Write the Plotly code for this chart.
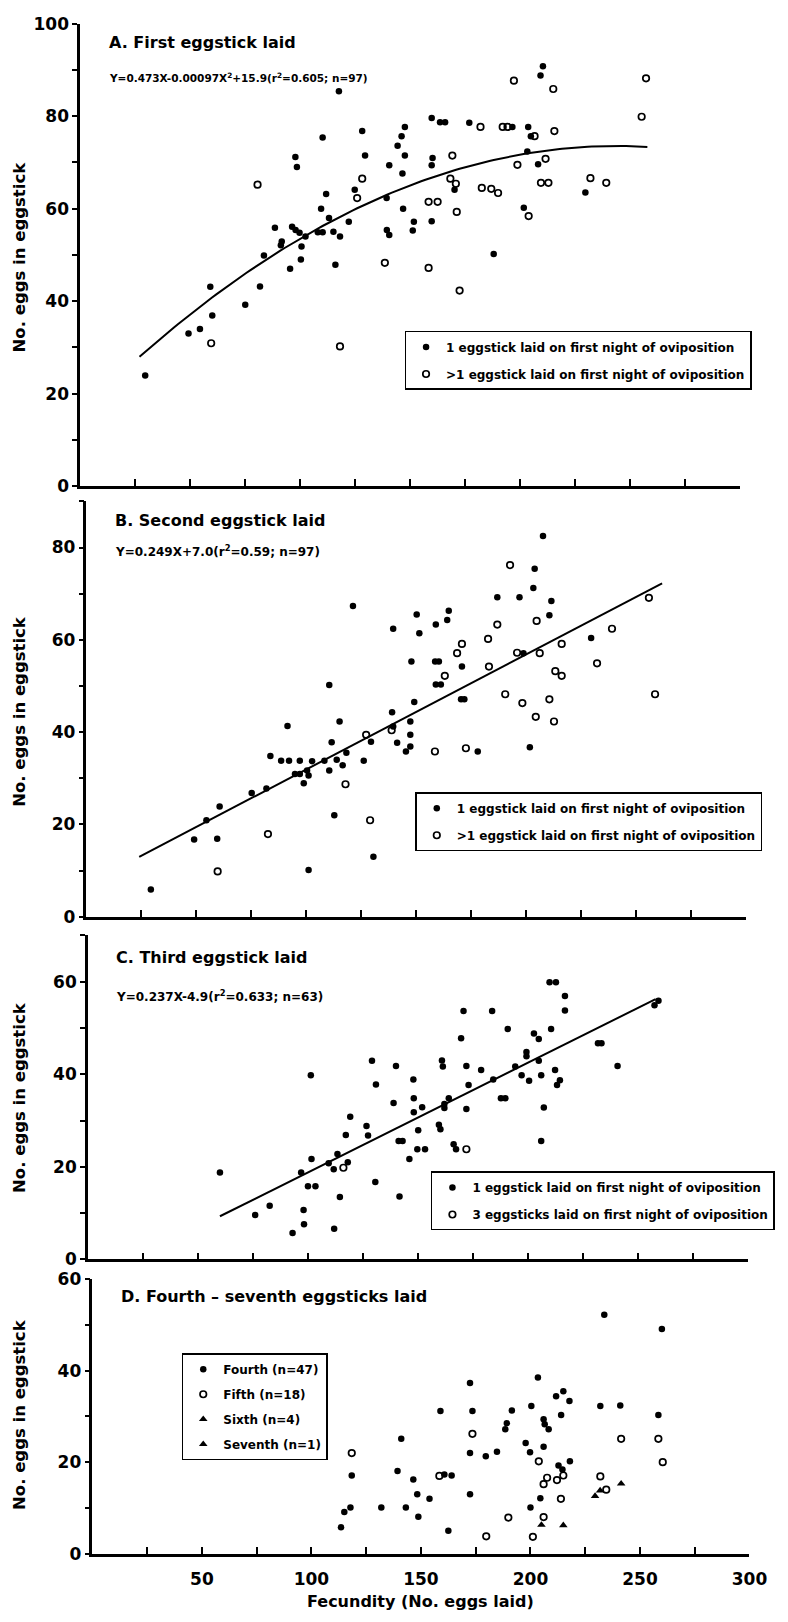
import numpy as np
import plotly.graph_objects as go

FONT = "DejaVu Sans"
W, H = 788, 1622

# ---------------- Panel A: first eggstick laid ----------------
a_one_x = [209.4, 210.5, 117.7, 159.9, 163.7, 166.0, 177.0, 196.6, 203.8, 205.0, 128.3, 147.7,
           146.2, 144.4, 147.7, 129.6, 110.3, 97.9, 98.6, 140.6, 160.3, 159.9, 203.4, 208.3,
           146.6, 170.3, 229.8, 124.9, 111.9, 139.4, 109.6, 146.9, 201.8, 88.6, 96.4, 98.0,
           99.8, 102.5, 108.1, 110.3, 113.2, 115.2, 118.2, 122.2, 139.5, 140.6, 151.3, 151.8,
           159.9, 91.7, 91.3, 100.7, 83.6, 100.4, 95.5, 116.1, 188.1, 59.2, 81.8, 75.1,
           60.1, 49.3, 54.5, 29.6]
a_one_y = [88.8, 90.8, 85.4, 79.6, 78.7, 78.7, 78.6, 77.7, 77.7, 75.7, 76.8, 77.7,
           75.7, 73.6, 71.5, 71.5, 75.4, 71.2, 69.0, 69.4, 71.0, 69.4, 72.4, 69.6,
           67.6, 64.1, 63.5, 64.1, 63.2, 62.3, 60.0, 60.0, 60.2, 55.9, 56.1, 55.4,
           54.8, 54.0, 54.9, 54.9, 58.0, 55.0, 54.0, 57.2, 55.4, 54.3, 55.3, 57.2,
           57.3, 52.9, 52.1, 51.8, 49.9, 49.0, 47.0, 47.9, 50.2, 43.1, 43.2, 39.2,
           36.9, 33.0, 34.0, 23.9]
a_multi_x = [197.3, 215.2, 257.4, 255.4, 182.1, 192.2, 194.4, 206.7, 215.7, 169.3, 211.7, 198.9,
             168.4, 170.9, 182.7, 187.0, 190.1, 209.6, 213.0, 232.1, 239.3, 80.7, 128.3, 126.0,
             158.5, 162.6, 171.3, 204.0, 138.6, 158.5, 172.6, 59.6, 118.2]
a_multi_y = [87.7, 85.9, 88.2, 79.9, 77.7, 77.7, 77.7, 75.7, 76.8, 71.5, 70.8, 69.5,
             66.5, 65.4, 64.5, 64.3, 63.4, 65.6, 65.6, 66.6, 65.6, 65.2, 66.5, 62.3,
             61.5, 61.5, 59.3, 58.4, 48.3, 47.2, 42.3, 30.9, 30.2]
a_coef = (0.473, -0.00097, 15.9)   # Y = b1*X + b2*X^2 + b0
a_fit_range = (27, 258)

# ---------------- Panel B: second eggstick laid ----------------
b_one_x = [207.8, 204.0, 203.4, 187.0, 197.1, 211.6, 121.3, 210.7, 150.3, 164.9, 164.2, 159.0,
           139.6, 151.5, 229.7, 198.9, 147.9, 158.7, 160.4, 170.9, 159.0, 161.3, 110.5, 170.5,
           172.0, 149.2, 139.1, 91.5, 115.2, 147.4, 139.6, 147.4, 147.4, 141.4, 145.4, 129.5,
           111.6, 178.1, 201.8, 83.7, 88.6, 92.2, 97.1, 102.7, 108.3, 113.9, 118.3, 126.2,
           110.5, 116.6, 94.9, 97.1, 100.4, 101.1, 98.9, 75.2, 81.9, 60.6, 54.6, 49.0,
           59.5, 112.8, 130.6, 101.1, 29.3]
b_one_y = [82.5, 75.4, 71.2, 69.2, 69.2, 68.4, 67.3, 65.3, 65.5, 66.3, 64.3, 63.3,
           62.4, 61.4, 60.4, 57.1, 55.3, 55.3, 55.3, 54.2, 50.3, 50.3, 50.2, 47.1,
           47.1, 46.5, 44.3, 41.3, 42.3, 42.3, 41.2, 39.4, 36.9, 37.7, 35.8, 37.9,
           37.8, 35.8, 36.7, 34.8, 33.8, 33.8, 33.8, 33.7, 33.8, 34.0, 35.5, 33.8,
           31.7, 32.8, 30.9, 30.9, 31.7, 30.6, 28.9, 26.8, 27.8, 23.9, 20.9, 16.7,
           16.9, 22.0, 13.0, 10.1, 5.9]
b_multi_x = [192.8, 256.0, 204.9, 187.0, 239.2, 182.8, 170.9, 168.7, 216.3, 196.0, 206.3, 183.2,
             232.4, 163.1, 213.4, 216.3, 190.6, 258.8, 198.4, 210.7, 204.5, 212.8, 138.9, 127.3,
             158.6, 172.7, 117.9, 82.6, 129.1, 59.7]
b_multi_y = [76.2, 69.1, 64.1, 63.3, 62.4, 60.2, 59.1, 57.1, 59.1, 57.2, 57.1, 54.2,
             54.9, 52.2, 53.2, 52.2, 48.2, 48.2, 46.3, 47.1, 43.3, 42.3, 40.4, 39.4,
             35.8, 36.5, 28.7, 17.9, 20.9, 9.8]
b_coef = (0.249, 7.0)   # Y = b1*X + b0
b_fit_range = (24, 262)

# ---------------- Panel C: third eggstick laid ----------------
c_one_x = [60.0, 76.0, 82.6, 93.0, 96.9, 98.0, 98.2, 100.0, 103.4, 101.3, 101.6, 109.4,
           111.7, 111.9, 113.4, 114.5, 117.2, 118.1, 119.2, 126.6, 127.3, 129.1, 130.9, 130.6,
           138.9, 140.0, 141.2, 143.0, 141.6, 146.1, 147.9, 148.1, 148.1, 150.1, 149.7, 151.9,
           153.2, 159.5, 160.2, 160.9, 161.3, 162.0, 162.0, 164.0, 166.2, 167.3, 169.6, 170.7,
           172.0, 172.0, 173.0, 178.7, 183.7, 184.2, 187.7, 189.7, 190.8, 194.2, 197.1, 199.3,
           199.3, 200.5, 202.7, 204.9, 204.9, 206.0, 206.0, 207.2, 210.5, 209.8, 212.7, 212.3,
           213.2, 214.5, 216.8, 216.8, 231.8, 233.4, 240.7, 257.5, 259.3]
c_one_y = [18.8, 9.6, 11.6, 5.7, 18.8, 10.7, 7.6, 15.8, 15.8, 39.8, 21.7, 20.8,
           19.5, 6.6, 22.8, 13.5, 26.9, 21.0, 30.8, 28.8, 26.8, 42.9, 37.8, 16.7,
           33.8, 41.8, 25.6, 25.6, 13.6, 21.7, 38.9, 34.8, 31.8, 27.9, 23.8, 32.9,
           23.8, 29.1, 28.1, 43.0, 41.7, 33.6, 32.7, 34.8, 24.9, 23.8, 47.8, 53.7,
           41.8, 32.5, 37.7, 40.9, 53.7, 38.9, 34.8, 34.8, 49.8, 41.7, 39.8, 44.8,
           43.9, 38.6, 48.8, 47.6, 42.9, 39.8, 25.6, 32.8, 49.8, 59.9, 59.9, 40.9,
           37.7, 38.7, 56.9, 53.8, 46.7, 46.7, 41.8, 54.9, 55.9]
c_three_x = [116.1, 172.0]
c_three_y = [19.8, 23.8]
c_coef = (0.237, -4.9)
c_fit_range = (60, 258)

# ---------------- Panel D: fourth to seventh eggsticks ----------------
d_fourth_x = [233.7, 260.0, 172.4, 203.4, 211.7, 215.0, 217.8, 214.0, 158.9, 173.5, 191.5, 200.4,
              231.9, 241.0, 258.4, 189.2, 188.5, 206.0, 206.5, 208.3, 141.0, 197.8, 206.0, 172.4,
              179.6, 184.7, 199.8, 218.0, 212.8, 214.6, 118.4, 139.3, 146.5, 160.7, 164.0, 148.3,
              172.4, 153.9, 204.5, 115.0, 117.8, 131.9, 143.1, 148.8, 113.5, 162.5, 200.0]
d_fourth_y = [52.2, 49.1, 37.3, 38.5, 34.4, 35.5, 33.4, 30.3, 31.2, 31.2, 31.3, 32.3,
              32.3, 32.4, 30.3, 28.5, 27.2, 29.4, 28.3, 27.2, 25.1, 24.2, 23.4, 22.0,
              21.3, 22.3, 22.2, 20.2, 19.3, 18.4, 17.1, 18.1, 16.2, 17.3, 17.1, 13.0,
              13.0, 12.0, 12.1, 9.1, 10.1, 10.1, 10.1, 8.1, 5.8, 5.0, 10.1]
d_fifth_x = [118.4, 173.5, 203.8, 241.4, 258.4, 260.4, 231.9, 234.6, 207.6, 206.0, 212.1, 215.0,
             213.9, 189.9, 206.0, 179.8, 201.1, 158.4]
d_fifth_y = [22.0, 26.2, 20.2, 25.1, 25.1, 20.0, 16.9, 14.0, 16.6, 15.2, 16.1, 17.1,
             12.0, 7.9, 8.0, 3.8, 3.7, 17.0]
d_sixth_x = [205.0, 215.0, 241.4, 229.5]
d_sixth_y = [6.3, 6.2, 15.3, 12.6]
d_seventh_x = [231.8]
d_seventh_y = [13.8]

X_MAJOR = list(range(50, 301, 50))
X_MINOR = list(range(25, 301, 50))

# pixel frame of each panel: (x at 0, x at 300, y at 0, y at top, top value)
panels = [
    dict(x0=82.0, x1=757.0, y0=482.0, y1=14.0, top=100),
    dict(x0=88.5, x1=763.0, y0=918.0, y1=497.5, top=90),
    dict(x0=90.0, x1=765.5, y0=1265.0, y1=937.0, top=70),
    dict(x0=94.6, x1=767.0, y0=1563.0, y1=1285.0, top=60),
]

fig = go.Figure()

filled = dict(symbol="circle", size=6.5, color="black")
hollow = dict(symbol="circle-open", size=6.5, color="black", line=dict(width=1.7, color="black"))
triangle = dict(symbol="triangle-up", size=7.5, color="black")


def add_points(x, y, marker, name, idx, legend):
    suffix = "" if idx == 1 else str(idx)
    fig.add_trace(go.Scatter(x=x, y=y, mode="markers", marker=marker, name=name,
                             xaxis="x" + suffix, yaxis="y" + suffix,
                             legend=legend, legendgroup=name + suffix, cliponaxis=False))


def add_fit(xs, ys, idx):
    suffix = "" if idx == 1 else str(idx)
    fig.add_trace(go.Scatter(x=xs, y=ys, mode="lines", line=dict(color="black", width=2),
                             xaxis="x" + suffix, yaxis="y" + suffix, showlegend=False,
                             hoverinfo="skip"))


one_night = "1 eggstick laid on first night of oviposition"

# Panel A
add_points(a_one_x, a_one_y, filled, one_night, 1, "legend")
add_points(a_multi_x, a_multi_y, hollow, ">1 eggstick laid on first night of oviposition", 1, "legend")
xa = np.linspace(*a_fit_range, 120)
add_fit(xa, a_coef[0] * xa + a_coef[1] * xa ** 2 + a_coef[2], 1)

# Panel B
add_points(b_one_x, b_one_y, filled, one_night, 2, "legend2")
add_points(b_multi_x, b_multi_y, hollow, ">1 eggstick laid on first night of oviposition", 2, "legend2")
xb = np.array(b_fit_range, dtype=float)
add_fit(xb, b_coef[0] * xb + b_coef[1], 2)

# Panel C
add_points(c_one_x, c_one_y, filled, one_night, 3, "legend3")
add_points(c_three_x, c_three_y, hollow, "3 eggsticks laid on first night of oviposition", 3, "legend3")
xc = np.array(c_fit_range, dtype=float)
add_fit(xc, c_coef[0] * xc + c_coef[1], 3)

# Panel D
add_points(d_fourth_x, d_fourth_y, filled, "Fourth (n=47)", 4, "legend4")
add_points(d_fifth_x, d_fifth_y, hollow, "Fifth (n=18)", 4, "legend4")
add_points(d_sixth_x, d_sixth_y, triangle, "Sixth (n=4)", 4, "legend4")
add_points(d_seventh_x, d_seventh_y, triangle, "Seventh (n=1)", 4, "legend4")

layout = dict(
    width=W, height=H, margin=dict(l=0, r=0, t=0, b=0),
    paper_bgcolor="white", plot_bgcolor="white",
    font=dict(family=FONT, color="black"),
    hovermode=False,
)

for i, p in enumerate(panels, start=1):
    suffix = "" if i == 1 else str(i)
    top = p["top"]
    layout["xaxis" + suffix] = dict(
        domain=[p["x0"] / W, p["x1"] / W], range=[0, 300], anchor="y" + suffix,
        showgrid=False, zeroline=False, showline=True, linecolor="black", linewidth=2.5,
        ticks="inside", ticklen=7, tickwidth=2, tickcolor="black",
        tickmode="array", tickvals=X_MAJOR, showticklabels=(i == 4), ticklabelstandoff=8,
        tickfont=dict(family=FONT, size=17, weight="bold"),
        minor=dict(tickmode="array", tickvals=X_MINOR, ticks="inside", ticklen=7,
                   tickwidth=2, tickcolor="black", showgrid=False),
    )
    layout["yaxis" + suffix] = dict(
        domain=[1 - p["y0"] / H, 1 - p["y1"] / H], range=[0, top], anchor="x" + suffix,
        showgrid=False, zeroline=False, showline=True, linecolor="black", linewidth=2.5,
        ticks="outside", ticklen=5, tickwidth=2, tickcolor="black",
        tickmode="array", tickvals=list(range(0, top + 1, 20)),
        tickfont=dict(family=FONT, size=17, weight="bold"),
        minor=dict(tickmode="array", tickvals=list(range(10, top + 1, 20)), ticks="outside",
                   ticklen=5, tickwidth=2, tickcolor="black", showgrid=False),
    )

legend_style = dict(xanchor="left", yanchor="top", bordercolor="black", borderwidth=1.5,
                    bgcolor="white", traceorder="grouped", tracegroupgap=8,
                    font=dict(family=FONT, size=12, weight="bold"), itemsizing="trace")
layout["legend"] = dict(legend_style, x=414 / W, y=1 - 325 / H)
layout["legend2"] = dict(legend_style, x=425 / W, y=1 - 792 / H)
layout["legend3"] = dict(legend_style, x=441 / W, y=1 - 1176 / H)
layout["legend4"] = dict(legend_style, x=186 / W, y=1 - 1360 / H, tracegroupgap=6)

fig.update_layout(**layout)

annotations = []
titles = [
    ("A. First eggstick laid", 95.9, "Y=0.473X-0.00097X<sup>2</sup>+15.9(r<sup>2</sup>=0.605; n=97)", 88.3, 10.5),
    ("B. Second eggstick laid", 85.9, "Y=0.249X+7.0(r<sup>2</sup>=0.59; n=97)", 79.2, 12),
    ("C. Third eggstick laid", 65.2, "Y=0.237X-4.9(r<sup>2</sup>=0.633; n=63)", 57.0, 12),
    ("D. Fourth – seventh eggsticks laid", 56.2, None, None, None),
]
for i, (title, ty, eq, ey, esize) in enumerate(titles, start=1):
    suffix = "" if i == 1 else str(i)
    annotations.append(dict(text=title, x=12, y=ty, xref="x" + suffix, yref="y" + suffix,
                            xanchor="left", yanchor="middle", showarrow=False,
                            font=dict(family=FONT, size=16, weight="bold")))
    if eq:
        annotations.append(dict(text=eq, x=12, y=ey, xref="x" + suffix, yref="y" + suffix,
                                xanchor="left", yanchor="middle", showarrow=False,
                                font=dict(family=FONT, size=esize, weight="bold")))

# vertical axis titles
for yc in (250, 710, 1101, 1422):
    annotations.append(dict(text="No. eggs in eggstick", x=20 / W, y=1 - yc / H, xref="paper",
                            yref="paper", textangle=-90, showarrow=False, xanchor="center",
                            yanchor="middle", font=dict(family=FONT, size=16.5, weight="bold")))

annotations.append(dict(text="Fecundity (No. eggs laid)", x=150, y=1 - 1611 / H, xref="x4",
                        yref="paper", showarrow=False, xanchor="center", yanchor="middle",
                        font=dict(family=FONT, size=16, weight="bold")))

fig.update_layout(annotations=annotations)
fig.write_html("out.html")
